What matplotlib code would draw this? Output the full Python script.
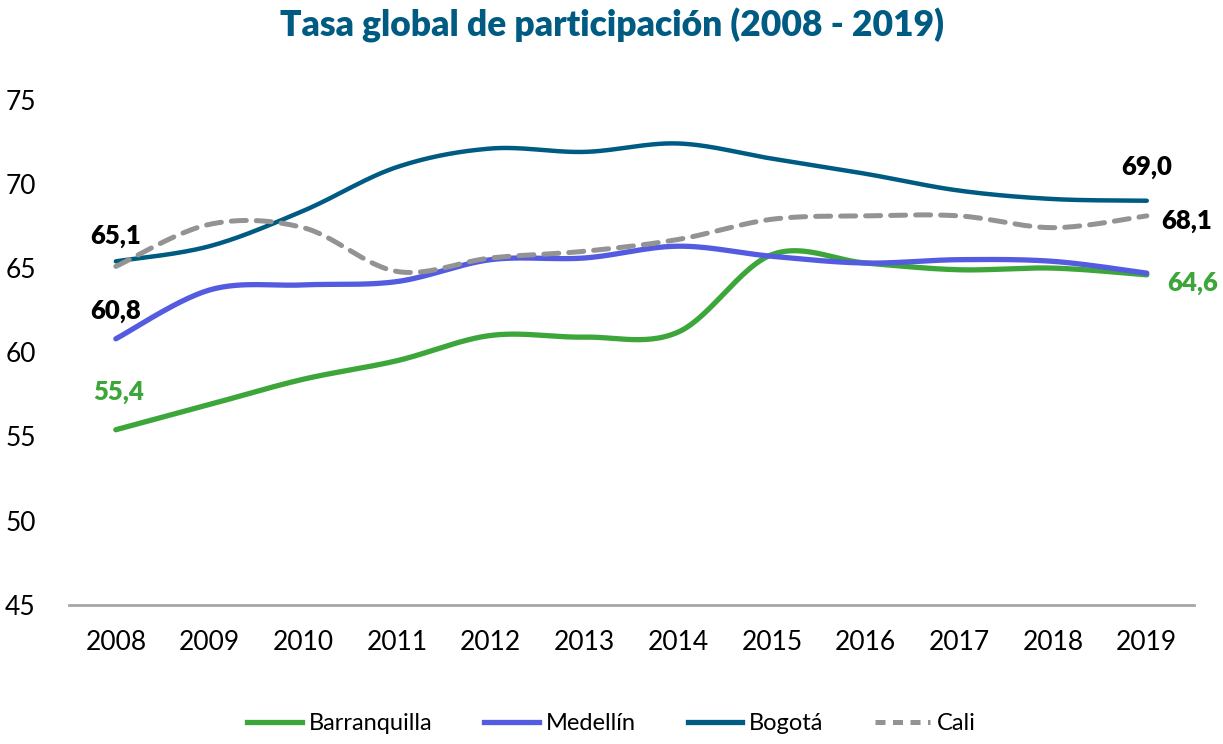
import numpy as np
import matplotlib
matplotlib.use("Agg")
from matplotlib import pyplot as plt
from matplotlib.lines import Line2D

plt.rcParams['font.family'] = ['Lato', 'DejaVu Sans']

# Datos: tasa global de participación por ciudad
years = ['2008', '2009', '2010', '2011', '2012', '2013',
         '2014', '2015', '2016', '2017', '2018', '2019']
barranquilla = [55.4, 56.9, 58.4, 59.5, 61.0, 60.9, 61.2, 65.8, 65.3, 64.9, 65.0, 64.6]
medellin = [60.8, 63.7, 64.0, 64.2, 65.5, 65.6, 66.3, 65.7, 65.3, 65.5, 65.4, 64.7]
bogota = [65.4, 66.3, 68.4, 71.0, 72.1, 71.9, 72.4, 71.5, 70.6, 69.6, 69.1, 69.0]
cali = [65.1, 67.6, 67.4, 64.8, 65.6, 66.0, 66.7, 67.9, 68.1, 68.1, 67.4, 68.1]

c_barr = '#3DA63A'
c_med = '#545BE0'
c_bog = '#005B82'
c_cali = '#939393'


def suavizar(y, n=30):
    # curva bezier tipo Catmull-Rom (linea suavizada)
    y = np.asarray(y, dtype=float)
    x = np.arange(len(y), dtype=float)
    pts = np.column_stack([x, y])
    xs, ys = [], []
    for i in range(len(pts) - 1):
        p0 = pts[max(i - 1, 0)]
        p1 = pts[i]
        p2 = pts[i + 1]
        p3 = pts[min(i + 2, len(pts) - 1)]
        c1 = p1 + (p2 - p0) / 6
        c2 = p2 - (p3 - p1) / 6
        t = np.linspace(0, 1, n)[:, None]
        b = ((1 - t) ** 3) * p1 + 3 * ((1 - t) ** 2) * t * c1 + 3 * (1 - t) * t ** 2 * c2 + t ** 3 * p2
        xs.append(b[:, 0])
        ys.append(b[:, 1])
    return np.concatenate(xs), np.concatenate(ys)


def fmt(v):
    return f"{v:.1f}".replace('.', ',')


fig = plt.figure(figsize=(12.23, 7.44), dpi=100)
ax = fig.add_axes([0.0564, 0.187, 0.9196, 0.679])

x, y = suavizar(barranquilla)
ax.plot(x, y, color=c_barr, lw=3.8, solid_capstyle='round')
x, y = suavizar(medellin)
ax.plot(x, y, color=c_med, lw=3.8, solid_capstyle='round')
x, y = suavizar(bogota)
ax.plot(x, y, color=c_bog, lw=3.2, solid_capstyle='round')
x, y = suavizar(cali)
ax.plot(x, y, color=c_cali, lw=3.6, ls=(0, (3, 2)), dash_capstyle='round')

# etiquetas de valores
last = len(years) - 1
lab = dict(fontsize=18.5, fontweight='heavy', ha='center', va='center',
           textcoords='offset points')
ax.annotate(fmt(cali[0]), (0, cali[0]), xytext=(0, 22), color='black', **lab)
ax.annotate(fmt(medellin[0]), (0, medellin[0]), xytext=(0, 20), color='black', **lab)
ax.annotate(fmt(barranquilla[0]), (0, barranquilla[0]), xytext=(2, 27), color=c_barr, **lab)
ax.annotate(fmt(bogota[last]), (last, bogota[last]), xytext=(0, 24), color='black', **lab)
ax.annotate(fmt(cali[last]), (last, cali[last]), xytext=(29, -4), color='black', **lab)
ax.annotate(fmt(barranquilla[last]), (last, barranquilla[last]), xytext=(33, -6),
            color=c_barr, **lab)

ax.set_xlim(-0.5, len(years) - 0.5)
ax.set_ylim(45, 75)
ax.set_xticks(range(len(years)))
ax.set_xticklabels(years)
ax.set_yticks(range(45, 76, 5))
ax.tick_params(axis='both', length=0, labelsize=19, colors='black')
ax.tick_params(axis='y', pad=24)
ax.tick_params(axis='x', pad=18)
for s in ['top', 'right', 'left']:
    ax.spines[s].set_visible(False)
ax.spines['bottom'].set_color('#A6A6A6')
ax.spines['bottom'].set_linewidth(2)

fig.suptitle('Tasa global de participación (2008 - 2019)', x=0.5, y=0.99,
             fontsize=25.5, fontweight='heavy', color=c_bog)

handles = [
    Line2D([], [], color=c_barr, lw=3.8),
    Line2D([], [], color=c_med, lw=3.8),
    Line2D([], [], color=c_bog, lw=3.8),
    Line2D([], [], color=c_cali, lw=3.6, ls=(0, (2, 1.5))),
]
fig.legend(handles, ['Barranquilla', 'Medellín', 'Bogotá', 'Cali'], loc='center',
           bbox_to_anchor=(0.5, 0.027), ncol=4, frameon=False, fontsize=17,
           handlelength=2.3, columnspacing=2.2, handletextpad=0.3)

fig.savefig('out.png', dpi=100)
